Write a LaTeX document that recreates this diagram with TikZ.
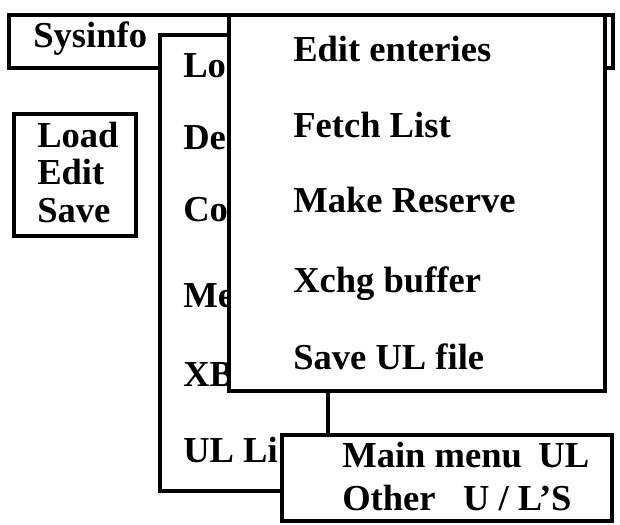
\documentclass[tikz,border=0pt]{standalone}
\usepackage{fontspec}
\setmainfont{Liberation Serif}
\usetikzlibrary{fit}

\begin{document}
\begin{tikzpicture}[x=0.025cm,y=-0.025cm,
    menubox/.style={draw,fill=white,line width=3.5pt,inner sep=0pt},
    item/.style={anchor=base west,inner sep=0pt,font=\fontsize{26}{30}\selectfont\bfseries}]
    \useasboundingbox (0,0) rectangle (620,525);

    % top bar and the little file box
    \node[menubox,fit={(9,15) (613,68)}] (sysbar) {};
    \node[item] (sysname) at (33,48) {Sysinfo};
    \node[menubox,fit={(14,114) (136,236)}] (filebox) {};
    \node[item] (fload) at (37,148) {Load};
    \node[item] (fedit) at (37,185) {Edit};
    \node[item] (fsave) at (37,223) {Save};

    % main menu, mostly hidden under the others
    \node[menubox,fit={(160,35) (328,491)}] (mainmenu) {};
    \node[item] (mlo) at (183,78) {Lo};
    \node[item] (mde) at (183,150) {De};
    \node[item] (mco) at (183,222) {Co};
    \node[item] (mme) at (183,308) {Me};
    \node[item] (mxb) at (183,387) {XB};
    \node[item] (mul) at (183,463) {UL Li};

    % edit submenu on top
    \node[menubox,fit={(229,15) (605,391)}] (editmenu) {};
    \node[item] (eedit) at (293,62) {Edit enteries};
    \node[item] (efetch) at (293,138) {Fetch List};
    \node[item] (emake) at (293,213) {Make Reserve};
    \node[item] (exchg) at (293,293) {Xchg buffer};
    \node[item] (esave) at (293,370) {Save UL file};

    % UL list box
    \node[menubox,fit={(282,435) (612,521)}] (ulmenu) {};
    \node[item] (umain) at (342,468) {Main menu\hspace{0.45em}UL};
    \node[item] (uother) at (342,510) {Other\hspace{0.75em}U / L'S};
\end{tikzpicture}
\end{document}
